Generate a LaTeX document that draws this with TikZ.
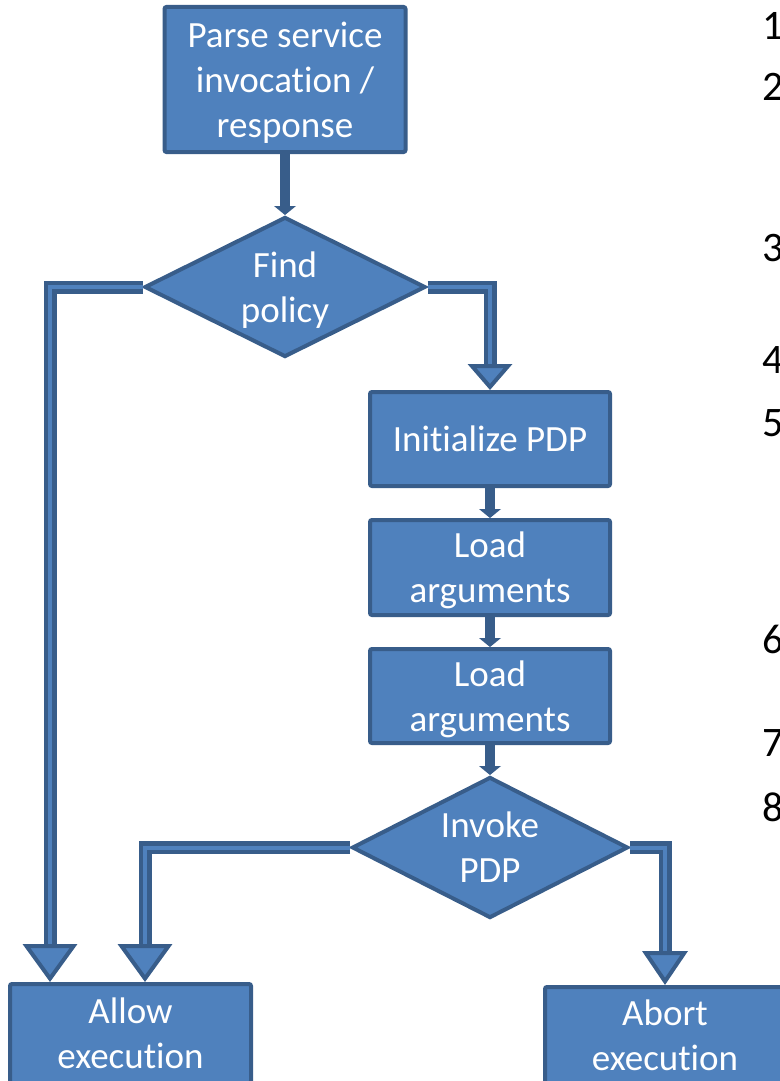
\documentclass[tikz,border=0pt]{standalone}
\usepackage{fontspec}
\setmainfont{Carlito}[Ligatures={NoCommon}]
\usetikzlibrary{arrows.meta,shapes.geometric}
\definecolor{boxfill}{HTML}{4F81BD}
\definecolor{boxline}{HTML}{385D8A}
\begin{document}
\begin{tikzpicture}[x=1pt,y=-1pt,
  every node/.style={font=\fontsize{37}{45}\selectfont, text=white, align=center},
  box/.style={draw=boxline, fill=boxfill, line width=4pt, rounded corners=2pt, inner sep=0pt, text depth=0pt},
  dia/.style={draw=boxline, fill=boxfill, line width=4pt, diamond, shape aspect=2, inner sep=0pt, text depth=0pt},
  link/.style={draw=boxline, line width=10pt, -{Triangle[width=22pt,length=9pt,line width=0pt]}},
  bigline/.style 2 args={draw=boxline, line width=13pt, line join=miter,
     -{Triangle[width=#1,length=#2,line width=4pt,fill=boxfill]},
     postaction={draw=boxfill, line width=4pt, -, shorten >=#2}},
  num/.style={text=black, anchor=base west, inner sep=0pt, font=\fontsize{42}{50}\selectfont}
]
\fill[white] (0,0) rectangle (779,1081);
\useasboundingbox (0,0) rectangle (779,1081);

% nodes
\node[box, minimum width=241pt, minimum height=145pt] (parse) at (285,79.5) {Parse service\\invocation /\\response};
\node[dia, minimum width=281pt, minimum height=140pt] (find) at (285,287) {Find\\policy};
\node[box, minimum width=240pt, minimum height=94pt] (init) at (490,439) {Initialize PDP};
\node[box, minimum width=240pt, minimum height=95pt] (load1) at (490,567.5) {Load\\arguments};
\node[box, minimum width=240pt, minimum height=94pt] (load2) at (490,696) {Load\\arguments};
\node[dia, minimum width=276pt, minimum height=141pt] (invoke) at (490,847.5) {Invoke\\PDP};
\node[box, minimum width=241pt, minimum height=99pt] (allow) at (130.5,1033.5) {Allow\\execution};
\node[box, minimum width=240pt, minimum height=97pt] (abort) at (665,1035.5) {Abort\\execution};

% list numbers cut by the right edge
\node[num] (n1) at (762,40) {1};
\node[num] (n2) at (762,100) {2};
\node[num] (n3) at (762,261) {3};
\node[num] (n4) at (762,373) {4};
\node[num] (n5) at (762,436) {5};
\node[num] (n6) at (762,653) {6};
\node[num] (n7) at (762,756) {7};
\node[num] (n8) at (762,821) {8};

% columns of the long connectors
\coordinate (xl) at (50,0);
\coordinate (xm) at (145,0);

% connectors
\draw[link] (parse.south) -- (find.north);
\draw[link] (init.south) -- (load1.north);
\draw[link] (load1.south) -- (load2.north);
\draw[link] (load2.south) -- (invoke.north);

\draw[bigline={54pt}{38pt}] (find.west) -| (allow.north -| xl);
\draw[bigline={44pt}{26pt}] (find.east) -| (init.north);
\draw[bigline={54pt}{38pt}] (invoke.west) -| (allow.north -| xm);
\draw[bigline={45pt}{34pt}] (invoke.east) -| (abort.north);
\end{tikzpicture}
\end{document}
